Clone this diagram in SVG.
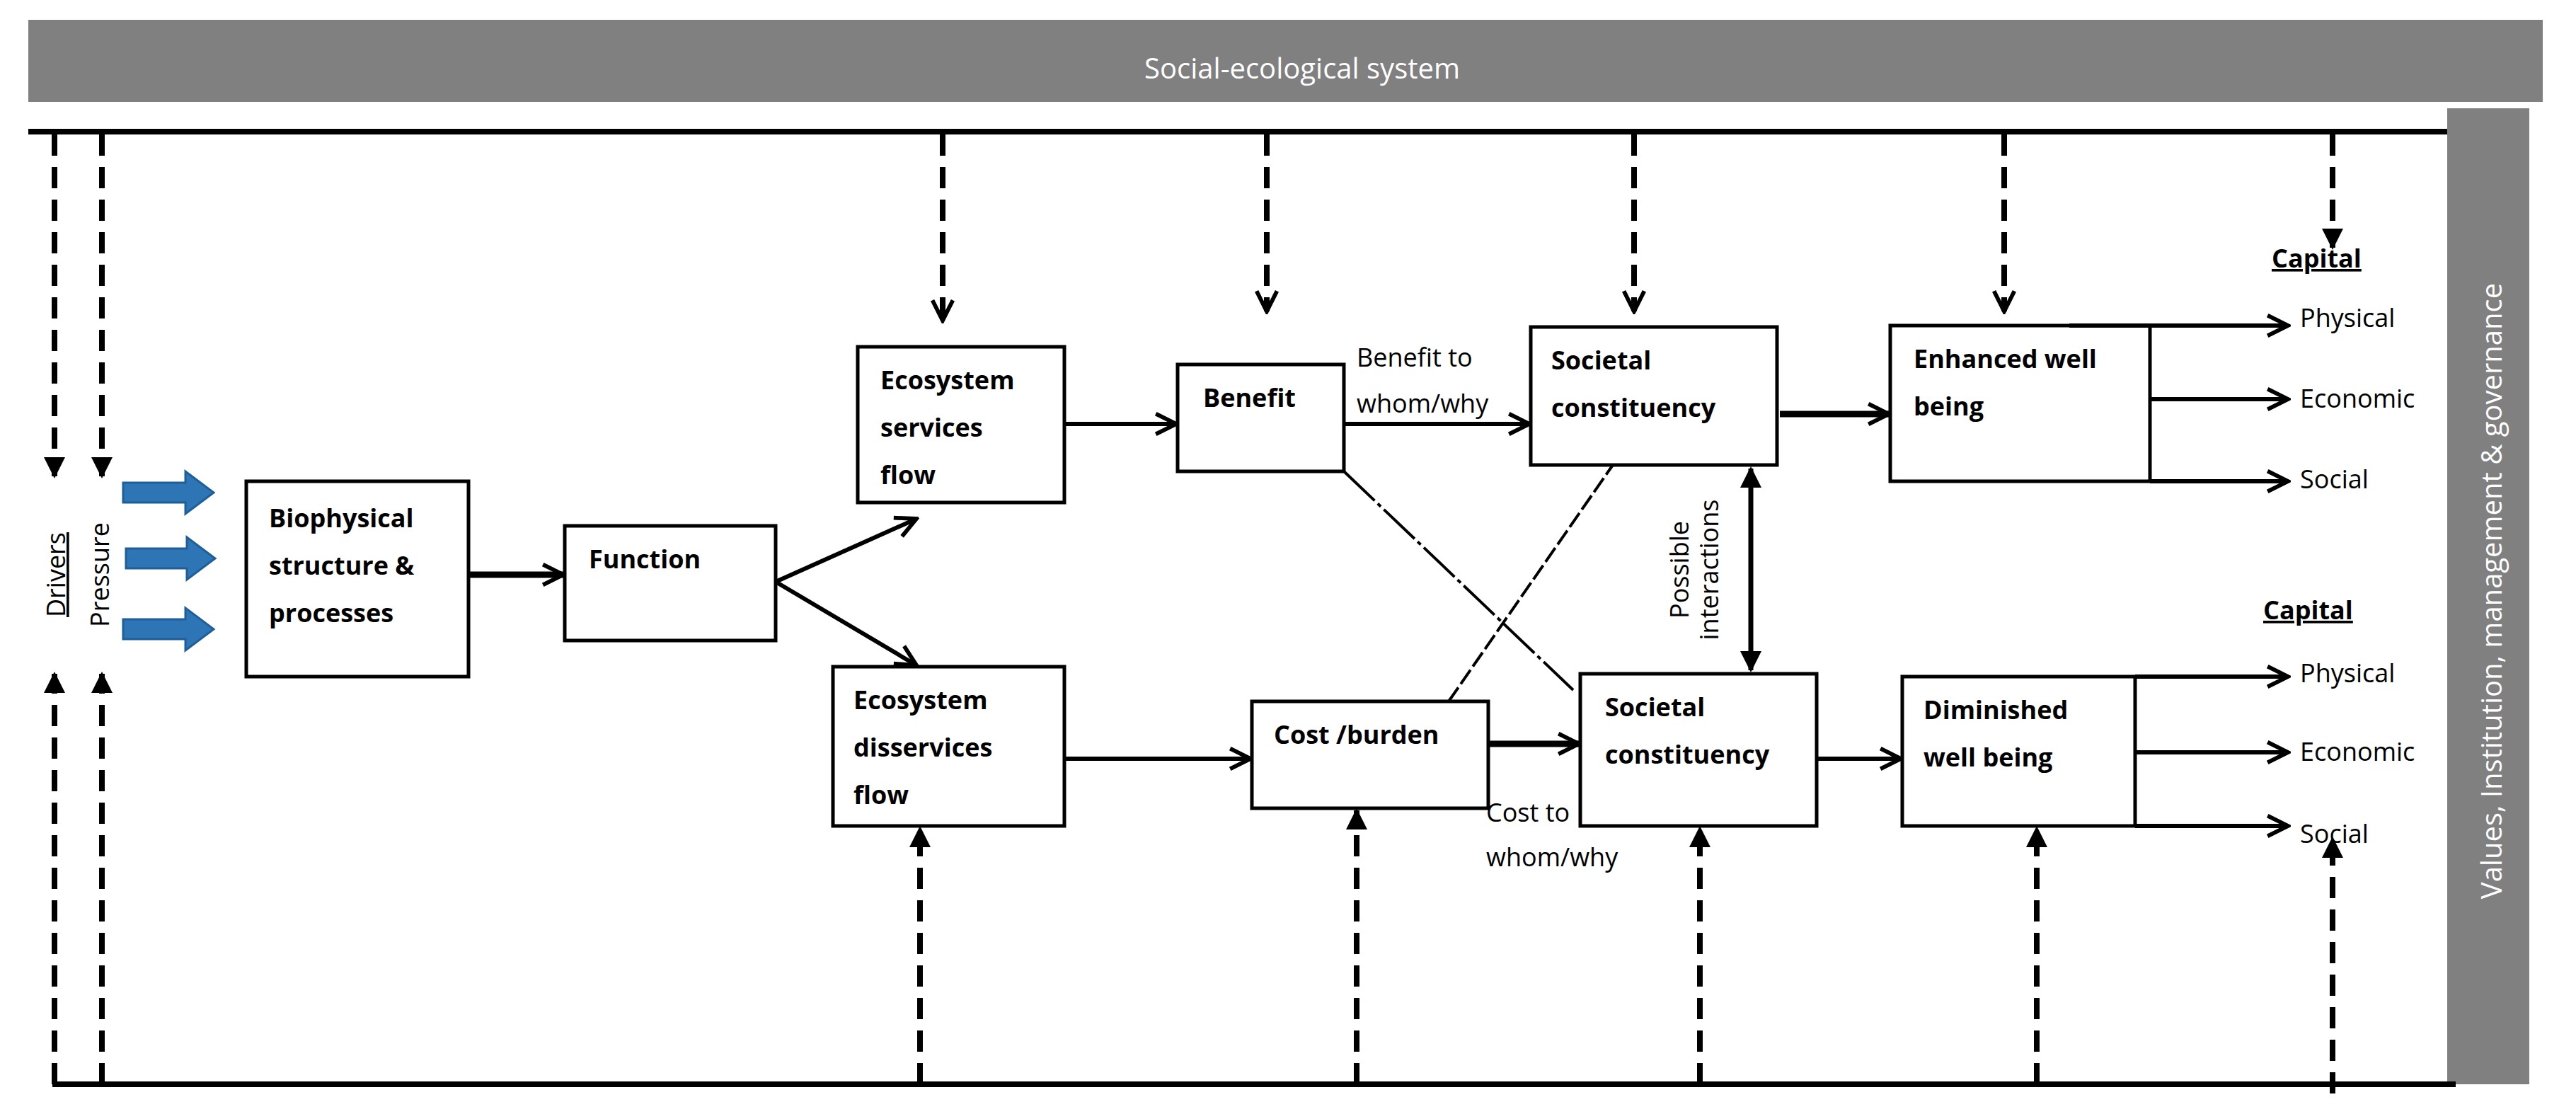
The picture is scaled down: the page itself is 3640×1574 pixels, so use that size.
<svg xmlns="http://www.w3.org/2000/svg" width="3640" height="1574" viewBox="0 0 3640 1574">
<style>
.box{fill:#fff;stroke:#000;stroke-width:5}
.t{font-family:"Open Sans","Liberation Sans",sans-serif;font-size:36px;font-weight:bold;fill:#000}
.n{font-family:"Open Sans","Liberation Sans",sans-serif;font-size:36px;fill:#000}
.w{font-family:"Open Sans","Liberation Sans",sans-serif;font-size:40px;fill:#fff}
.s{stroke:#000;stroke-width:6;fill:none}
.th{stroke:#000;stroke-width:9;fill:none}
.d{stroke:#000;stroke-width:8;fill:none;stroke-dasharray:30 16}
</style>
<defs>
<marker id="o" viewBox="0 0 10 10" refX="9" refY="5" markerWidth="36" markerHeight="36" orient="auto" markerUnits="userSpaceOnUse"><path d="M1,1 L9,5 L1,9" fill="none" stroke="#000" stroke-width="1.6"/></marker>
<marker id="f" viewBox="0 0 10 10" refX="9" refY="5" markerWidth="30" markerHeight="30" orient="auto" markerUnits="userSpaceOnUse"><path d="M0,0 L10,5 L0,10 z" fill="#000"/></marker>
<marker id="fs" viewBox="0 0 10 10" refX="9" refY="5" markerWidth="30" markerHeight="30" orient="auto-start-reverse" markerUnits="userSpaceOnUse"><path d="M0,0 L10,5 L0,10 z" fill="#000"/></marker>
</defs>
<g id="frame">
<rect x="40" y="28" width="3553" height="116" fill="#808080"/>
<text class="w" x="1840" y="111" text-anchor="middle">Social-ecological system</text>
<rect x="3458" y="153" width="116" height="1379" fill="#808080"/>
<text class="w" transform="translate(3535,835) rotate(-90)" text-anchor="middle">Values, Institution, management &amp; governance</text>
<line x1="40" y1="186" x2="3458" y2="186" stroke="#000" stroke-width="8"/>
<line x1="74" y1="1532" x2="3470" y2="1532" stroke="#000" stroke-width="8"/>
</g>
<g id="drivers">
<text class="n" transform="translate(92,812) rotate(-90)" text-anchor="middle" text-decoration="underline">Drivers</text>
<text class="n" transform="translate(154,812) rotate(-90)" text-anchor="middle">Pressure</text>
<g fill="#2e75b6" stroke="#1f5f99" stroke-width="3">
<path d="M174,682 H262 V666 L302,696 L262,726 V710 H174 z"/>
<path d="M178,775 H264 V759 L304,789 L264,819 V803 H178 z"/>
<path d="M174,875 H262 V859 L302,889 L262,919 V903 H174 z"/>
</g>
</g>
<g id="bio"><rect class="box" x="348" y="680" width="314" height="276"/><text class="t" x="380" y="745">Biophysical</text><text class="t" x="380" y="812">structure &amp;</text><text class="t" x="380" y="879">processes</text></g>
<g id="function"><rect class="box" x="798" y="743" width="298" height="162"/><text class="t" x="832" y="803">Function</text></g>
<g id="ess"><rect class="box" x="1212" y="490" width="292" height="220"/><text class="t" x="1244" y="550">Ecosystem</text><text class="t" x="1244" y="617">services</text><text class="t" x="1244" y="684">flow</text></g>
<g id="eds"><rect class="box" x="1177" y="942" width="327" height="225"/><text class="t" x="1206" y="1002">Ecosystem</text><text class="t" x="1206" y="1069">disservices</text><text class="t" x="1206" y="1136">flow</text></g>
<g id="benefit"><rect class="box" x="1664" y="515" width="235" height="151"/><text class="t" x="1700" y="575">Benefit</text></g>
<g id="cost"><rect class="box" x="1769" y="991" width="334" height="151"/><text class="t" x="1800" y="1051">Cost /burden</text></g>
<g id="soc1"><rect class="box" x="2163" y="462" width="348" height="195"/><text class="t" x="2192" y="522">Societal</text><text class="t" x="2192" y="589">constituency</text></g>
<g id="soc2"><rect class="box" x="2233" y="952" width="334" height="215"/><text class="t" x="2268" y="1012">Societal</text><text class="t" x="2268" y="1079">constituency</text></g>
<g id="enh"><rect class="box" x="2671" y="460" width="367" height="220"/><text class="t" x="2704" y="520">Enhanced well</text><text class="t" x="2704" y="587">being</text></g>
<g id="dim"><rect class="box" x="2688" y="956" width="329" height="211"/><text class="t" x="2718" y="1016">Diminished</text><text class="t" x="2718" y="1083">well being</text></g>
<g id="capital">
<text class="t" x="3210" y="378" font-size="40" text-decoration="underline">Capital</text>
<text class="n" x="3250" y="462">Physical</text><text class="n" x="3250" y="576">Economic</text><text class="n" x="3250" y="690">Social</text>
<text class="t" x="3198" y="875" font-size="40" text-decoration="underline">Capital</text>
<text class="n" x="3250" y="964">Physical</text><text class="n" x="3250" y="1075">Economic</text><text class="n" x="3250" y="1191">Social</text>
</g>
<g id="labels">
<text class="n" x="1917" y="518">Benefit to</text><text class="n" x="1917" y="583">whom/why</text>
<text class="n" x="2100" y="1161">Cost to</text><text class="n" x="2100" y="1224">whom/why</text>
<text class="n" font-size="30" transform="translate(2386,805) rotate(-90)" text-anchor="middle">Possible</text>
<text class="n" font-size="30" transform="translate(2428,805) rotate(-90)" text-anchor="middle">interactions</text>
</g>
<g id="connectors">
<line class="th" x1="662" y1="812" x2="796" y2="812" marker-end="url(#o)"/>
<line class="s" x1="1096" y1="822" x2="1295" y2="733" marker-end="url(#o)"/>
<line class="s" x1="1096" y1="822" x2="1295" y2="940" marker-end="url(#o)"/>
<line class="s" x1="1504" y1="599" x2="1662" y2="599" marker-end="url(#o)"/>
<line class="s" x1="1899" y1="599" x2="2161" y2="599" marker-end="url(#o)"/>
<line class="s" x1="1504" y1="1072" x2="1767" y2="1072" marker-end="url(#o)"/>
<line class="th" x1="2103" y1="1051" x2="2231" y2="1051" marker-end="url(#o)"/>
<line x1="1899" y1="666" x2="2223" y2="975" stroke="#000" stroke-width="4" stroke-dasharray="60 6 6 6"/>
<line x1="2047" y1="991" x2="2279" y2="657" stroke="#000" stroke-width="4" stroke-dasharray="24 6"/>
<line x1="2474" y1="662" x2="2474" y2="947" stroke="#000" stroke-width="7" marker-start="url(#fs)" marker-end="url(#fs)"/>
<line class="th" x1="2515" y1="585" x2="2669" y2="585" marker-end="url(#o)"/>
<line class="s" x1="2567" y1="1072" x2="2686" y2="1072" marker-end="url(#o)"/>
<line class="s" x1="2924" y1="460" x2="3233" y2="460" marker-end="url(#o)"/>
<line class="s" x1="3038" y1="564" x2="3233" y2="564" marker-end="url(#o)"/>
<line class="s" x1="3038" y1="680" x2="3233" y2="680" marker-end="url(#o)"/>
<line class="s" x1="3017" y1="956" x2="3233" y2="956" marker-end="url(#o)"/>
<line class="s" x1="3017" y1="1063" x2="3233" y2="1063" marker-end="url(#o)"/>
<line class="s" x1="3017" y1="1167" x2="3233" y2="1167" marker-end="url(#o)"/>
<line class="d" x1="77" y1="190" x2="77" y2="673" marker-end="url(#f)"/>
<line class="d" x1="144" y1="190" x2="144" y2="673" marker-end="url(#f)"/>
<line class="d" x1="77" y1="1532" x2="77" y2="952" marker-end="url(#f)"/>
<line class="d" x1="144" y1="1532" x2="144" y2="952" marker-end="url(#f)"/>
<line class="d" x1="1332" y1="190" x2="1332" y2="453" marker-end="url(#o)"/>
<line class="d" x1="1790" y1="190" x2="1790" y2="440" marker-end="url(#o)"/>
<line class="d" x1="2309" y1="190" x2="2309" y2="440" marker-end="url(#o)"/>
<line class="d" x1="2832" y1="190" x2="2832" y2="440" marker-end="url(#o)"/>
<line class="d" x1="3296" y1="190" x2="3296" y2="350" marker-end="url(#f)"/>
<line class="d" x1="1300" y1="1532" x2="1300" y2="1170" marker-end="url(#f)"/>
<line class="d" x1="1917" y1="1532" x2="1917" y2="1145" marker-end="url(#f)"/>
<line class="d" x1="2402" y1="1532" x2="2402" y2="1170" marker-end="url(#f)"/>
<line class="d" x1="2878" y1="1532" x2="2878" y2="1170" marker-end="url(#f)"/>
<line class="d" x1="3296" y1="1545" x2="3296" y2="1185" marker-end="url(#f)"/>
</g>
</svg>
